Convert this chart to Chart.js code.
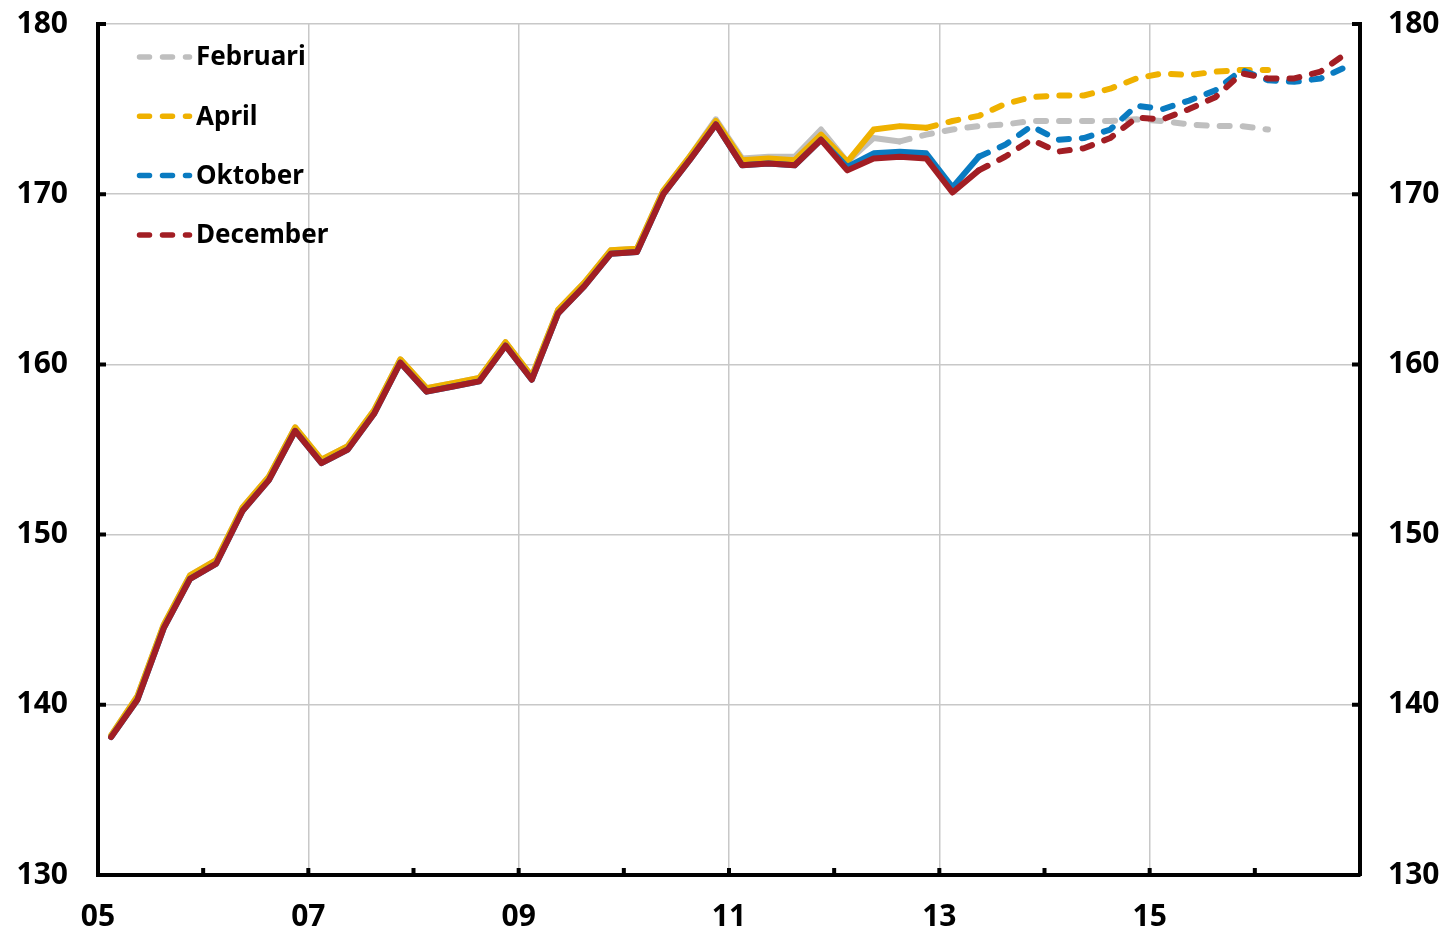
<!DOCTYPE html>
<html>
<head>
<meta charset="utf-8">
<script src="https://cdn.jsdelivr.net/npm/chart.js@4/dist/chart.umd.min.js"></script>
<style>
  body { margin: 0; background: #fff; }
  #wrap { width: 1454px; height: 930px; }
</style>
</head>
<body>
<div id="wrap"><canvas id="chart" width="1454" height="930"></canvas></div>
<script>
// quarterly data, 2005K1 - 2016K4
var years = [2005, 2006, 2007, 2008, 2009, 2010, 2011, 2012, 2013, 2014, 2015, 2016];
var yTicks = [130, 140, 150, 160, 170, 180];
var xLabelYears = [2005, 2007, 2009, 2011, 2013, 2015];

var februari = [
    138.2, 140.5, 144.7, 147.6, 148.5, 151.6, 153.4, 156.3,
    154.4, 155.2, 157.3, 160.3, 158.6, 158.9, 159.2, 161.3,
    159.3, 163.2, 164.8, 166.7, 166.8, 170.2, 172.2, 174.4,
    172.1, 172.2, 172.2, 173.8, 171.9, 173.3, 173.1, 173.5,
    173.8, 174.0, 174.1, 174.3, 174.3, 174.3, 174.3, 174.4,
    174.3, 174.1, 174.0, 174.0, 173.8
];
var april = [
    138.2, 140.5, 144.7, 147.6, 148.5, 151.6, 153.4, 156.3,
    154.4, 155.2, 157.3, 160.3, 158.6, 158.9, 159.2, 161.3,
    159.3, 163.2, 164.8, 166.7, 166.8, 170.2, 172.2, 174.3,
    172.0, 172.1, 172.0, 173.5, 171.9, 173.8, 174.0, 173.9,
    174.3, 174.6, 175.3, 175.7, 175.8, 175.8, 176.2, 176.8,
    177.1, 177.0, 177.2, 177.3, 177.3
];
var oktober = [
    138.1, 140.3, 144.5, 147.4, 148.3, 151.4, 153.2, 156.1,
    154.2, 155.0, 157.1, 160.1, 158.4, 158.7, 159.0, 161.1,
    159.1, 163.0, 164.6, 166.5, 166.6, 170.0, 172.0, 174.1,
    171.7, 171.8, 171.7, 173.2, 171.6, 172.4, 172.5, 172.4,
    170.4, 172.2, 172.9, 174.0, 173.2, 173.3, 173.8, 175.2,
    175.0, 175.5, 176.1, 177.3, 176.7, 176.6, 176.8, 177.5
];
var december = [
    138.1, 140.3, 144.5, 147.4, 148.3, 151.4, 153.2, 156.1,
    154.2, 155.0, 157.1, 160.1, 158.4, 158.7, 159.0, 161.1,
    159.1, 163.0, 164.6, 166.5, 166.6, 170.0, 172.0, 174.1,
    171.7, 171.8, 171.7, 173.2, 171.4, 172.1, 172.2, 172.1,
    170.1, 171.4, 172.2, 173.2, 172.5, 172.7, 173.3, 174.5,
    174.4, 175.0, 175.7, 177.1, 176.8, 176.8, 177.2, 178.3
];
// index of last actual (solid) quarter in each vintage
var lastActual = { februari: 30, april: 31, oktober: 33, december: 33 };

var quarterPos = [];
years.forEach(function(y) {
    for (var q = 1; q <= 4; q++) quarterPos.push(y + (q - 0.5) / 4);
});

function toPoints(values) {
    return values.map(function(v, i) { return { x: quarterPos[i], y: v }; });
}

var DASH = [10, 13];
var FONT = 'bold 26px "Noto Sans", sans-serif';

function makeSet(label, values, color, split, order) {
    return {
        label: label,
        data: toPoints(values),
        borderColor: color,
        borderWidth: 6,
        borderCapStyle: 'round',
        borderJoinStyle: 'round',
        pointRadius: 0,
        tension: 0,
        order: order,
        segment: {
            borderDash: function(ctx) { return ctx.p0DataIndex >= split ? DASH : []; }
        }
    };
}

var sets = [
    makeSet('Februari', februari, '#bfbfbf', lastActual.februari, 3),
    makeSet('April', april, '#efb100', lastActual.april, 2),
    makeSet('Oktober', oktober, '#0a7bc1', lastActual.oktober, 1),
    makeSet('December', december, '#a21e24', lastActual.december, 0)
];

// inward tick marks on the three axes
var tickMarks = {
    id: 'tickMarks',
    afterDraw: function(chart) {
        var c = chart.ctx, x = chart.scales.x, y = chart.scales.y, a = chart.chartArea;
        c.save();
        c.strokeStyle = '#000';
        c.lineWidth = 4;
        c.lineCap = 'butt';
        c.beginPath();
        yTicks.forEach(function(v) {
            var py = y.getPixelForValue(v);
            c.moveTo(a.left, py); c.lineTo(a.left + 8, py);
            c.moveTo(a.right, py); c.lineTo(a.right - 8, py);
        });
        years.concat([2017]).forEach(function(v) {
            var px = x.getPixelForValue(v);
            c.moveTo(px, a.bottom); c.lineTo(px, a.bottom - 7);
        });
        c.stroke();
        c.restore();
    }
};

// legend drawn inside the plot area
var insideLegend = {
    id: 'insideLegend',
    afterDraw: function(chart) {
        var c = chart.ctx;
        c.save();
        sets.forEach(function(s, i) {
            var ly = 57 + i * 59.3;
            c.strokeStyle = s.borderColor;
            c.lineWidth = 5.5;
            c.lineCap = 'round';
            c.setLineDash(DASH);
            c.beginPath();
            c.moveTo(139.5, ly);
            c.lineTo(189.5, ly);
            c.stroke();
            c.setLineDash([]);
            c.fillStyle = '#000';
            c.font = FONT;
            c.textAlign = 'left';
            c.textBaseline = 'middle';
            c.fillText(s.label, 196, ly + 1);
        });
        c.restore();
    }
};

var tickFont = { family: '"Noto Sans", sans-serif', size: 30, weight: 'bold' };

function fitY(width) {
    return function(s) {
        s.width = width;
        s.paddingTop = 0;
        s.paddingBottom = 0;
    };
}

new Chart(document.getElementById('chart').getContext('2d'), {
    type: 'line',
    data: { datasets: sets },
    options: {
        responsive: false,
        animation: false,
        layout: { padding: { top: 24, left: 0, right: 0, bottom: 0 } },
        plugins: { legend: { display: false }, tooltip: { enabled: false } },
        scales: {
            x: {
                type: 'linear',
                min: 2005, max: 2017,
                afterFit: function(s) { s.height = 55; },
                ticks: {
                    stepSize: 1,
                    autoSkip: false,
                    maxRotation: 0,
                    padding: 24,
                    color: '#000',
                    font: tickFont,
                    callback: function(v) {
                        return xLabelYears.indexOf(v) >= 0 ? String(v).slice(2) : '';
                    }
                },
                grid: {
                    drawTicks: false,
                    lineWidth: 1.5,
                    color: function(ctx) {
                        var v = ctx.tick && ctx.tick.value;
                        return (v % 2 === 1 && v > 2005 && v < 2017) ? '#c8c8c8' : 'rgba(0,0,0,0)';
                    }
                },
                border: { color: '#000', width: 4 }
            },
            y: {
                position: 'left',
                min: 130, max: 180,
                afterFit: fitY(98),
                ticks: { stepSize: 10, padding: 30, color: '#000', font: tickFont },
                grid: {
                    drawTicks: false,
                    lineWidth: 1.5,
                    color: function(ctx) {
                        return ctx.tick && ctx.tick.value > 130 ? '#c8c8c8' : 'rgba(0,0,0,0)';
                    }
                },
                border: { color: '#000', width: 4 }
            },
            y2: {
                position: 'right',
                min: 130, max: 180,
                afterFit: fitY(94),
                ticks: { stepSize: 10, padding: 28, color: '#000', font: tickFont },
                grid: { display: false, drawTicks: false },
                border: { color: '#000', width: 4 }
            }
        }
    },
    plugins: [tickMarks, insideLegend]
});
</script>
</body>
</html>
